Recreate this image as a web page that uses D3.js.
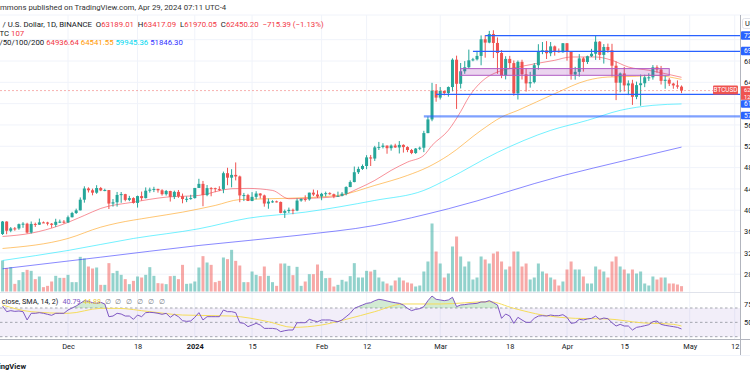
<!DOCTYPE html>
<html><head><meta charset="utf-8">
<script src="https://cdn.jsdelivr.net/npm/d3@7/dist/d3.min.js"></script>
<style>
html,body{margin:0;padding:0;background:#fff;}
svg{display:block;font-family:Roboto,"Noto Sans",sans-serif;}
text{white-space:pre;}
</style></head>
<body><svg id="chart" width="750" height="375"></svg>
<script>
// ---------------- DATA ----------------
const firstDay = "2023-11-15";
const lastDay = "2024-04-29";
const opens = [35537,37880,36154,36596,36585,37386,37476,35813,37432,37289,37720,37700,37480,37254,37831,37858,37712,38688,39476,39978,
41980,44080,43746,43293,44170,43713,43789,41253,41492,42869,43022,41941,42278,41374,42657,42275,43668,43861,43997,43740,
43016,43613,42520,43442,42627,42100,42142,42284,44180,44946,42846,44151,44146,43968,43930,46951,46110,46633,46340,42782,
42847,41732,42511,43137,42776,41262,41618,41665,41545,39507,39846,40077,39934,41817,42120,42035,43300,42946,42582,43082,
43200,43011,42582,42708,43098,44349,45288,47132,47751,48300,49917,49699,51795,51880,52125,51642,52137,51779,52260,51850,
51300,50730,51571,51728,54476,57037,62432,61130,62387,61987,63113,68245,63724,66074,66823,68124,68313,68955,72078,71452,
73072,71388,69499,65300,68393,67609,61937,67840,65501,63796,64037,67211,69880,69988,69456,70745,69892,69645,71333,69702,
65463,65964,68488,67820,68896,69360,71620,69146,70631,70006,67116,63924,65662,63419,63793,61277,63470,63818,64940,64941,
66819,66408,64277,64481,63755,63419,63189.01];
const highs = [37980,37930,36845,36850,37500,37760,37650,37890,37680,38430,37890,37830,37600,38400,38250,38150,38999,39700,40300,42400,
44490,44300,44050,44700,44370,44040,43790,42100,43430,43420,43080,42700,42430,42750,43500,44280,44240,44400,44040,43940,
43800,43650,43680,43800,43130,42600,42900,44180,45900,45500,44730,44340,44230,44500,47250,47970,47700,48970,46500,43250,
43080,43400,43570,43200,42930,42200,41870,41800,41650,40130,40500,40300,42200,42200,42800,43300,43880,43740,43270,43490,
43380,43120,43490,43400,44490,45600,48200,48170,48590,50330,50370,52080,52820,52570,52170,52350,52480,52980,52370,52000,
51500,51680,51950,54900,57580,63900,63680,63114,62430,63230,68500,69000,67630,67980,70136,68590,69900,72800,72850,73650,
73777,72420,70044,68900,68956,68100,68100,68240,66650,65970,67620,71150,71560,71730,71560,70900,70350,71370,71370,69708,
66900,69290,68725,69000,70280,72715,71750,71170,71260,71227,67932,65840,66868,64365,64471,64125,65450,65419,65700,67232,
67199,67075,65275,64800,63923,64361,63417.09];
const lows = [35360,35500,35875,36160,36330,36700,35630,35630,36870,37250,37600,37150,36700,36880,37600,37500,37615,38650,39300,39960,
41420,43330,42800,43080,43580,43570,40230,40680,40680,41400,41670,41700,41250,40500,41800,42210,43300,43400,43300,42750,
42750,41630,42100,42320,41300,41520,41970,42180,44180,40750,42630,42620,43400,43600,43200,44700,44300,45600,41500,41720,
41720,41700,42050,42200,40670,40280,41400,41450,39430,38555,39480,39250,39820,41600,41620,41800,42680,42300,41880,42570,
42900,42260,42550,42600,42800,44330,45240,46800,47560,47700,48300,49250,51300,51600,50600,51180,51700,50650,50820,50900,
50520,50570,51280,50900,54450,56700,60360,60780,61550,61310,62300,59005,62850,65600,66600,67950,68100,67200,68620,71330,
68550,65600,64780,64550,66600,61500,60775,64530,62260,63000,63790,66385,69280,68380,68900,69000,69560,69560,68060,64500,
64500,65060,66011,67440,68750,68210,68200,67518,69560,65086,60660,62134,62274,61600,59768,60833,59600,63090,64254,64500,
65806,63590,62800,63300,62793,62793,61970.05];
const closes = [37880,36154,36596,36585,37386,37476,35813,37432,37289,37720,37700,37480,37254,37831,37858,37712,38688,39476,39978,41980,
44080,43746,43293,44170,43713,43789,41253,41492,42869,43022,41941,42278,41374,42657,42275,43668,43861,43997,43740,43016,
43613,42520,43442,42627,42100,42142,42284,44180,44946,42846,44151,44146,43968,43930,46951,46110,46633,46340,42782,42847,
41732,42511,43137,42776,41262,41618,41665,41545,39507,39846,40077,39934,41817,42120,42035,43300,42946,42582,43082,43200,
43011,42582,42708,43098,44349,45288,47132,47751,48300,49917,49699,51795,51880,52125,51642,52137,51779,52260,51850,51300,
50730,51571,51728,54476,57037,62432,61130,62387,61987,63113,68245,63724,66074,66823,68124,68313,68955,72078,71452,73072,
71388,69499,65300,68393,67609,61937,67840,65501,63796,64037,67211,69880,69988,69456,70745,69892,69645,71333,69702,65463,
65964,68488,67820,68896,69360,71620,69146,70631,70006,67116,63924,65662,63419,63793,61277,63470,63818,64940,64941,66819,
66408,64277,64481,63755,63419,63189.01,62450.20];
const volumes = [620,467,487,153,227,387,433,413,247,300,87,113,200,313,273,273,333,187,187,693,
660,500,460,480,133,133,567,367,413,333,247,147,213,300,280,333,487,313,167,160,
147,307,313,247,533,153,160,200,480,707,580,533,187,213,680,647,833,613,520,187,
187,400,333,307,500,313,187,113,560,560,513,327,493,113,200,347,347,540,413,267,
273,100,133,233,200,307,567,280,280,413,400,433,280,200,160,120,220,280,220,180,
160,100,120,400,600,1360,800,560,280,360,900,1100,700,500,600,240,280,700,640,560,
760,800,600,440,500,800,800,500,560,240,280,560,400,360,280,240,120,200,440,600,
440,440,300,160,160,500,440,400,280,600,700,500,440,360,440,360,400,160,120,300,
240,280,280,160,160,140,107];
const rsiValues = [72.8,64.9,66.3,65.3,65.8,64.9,53.3,62.6,62.6,63.5,62.6,61.2,59.8,62.6,62.6,62.6,67.2,70,72.8,76.5,
80.2,79.3,77.4,76.5,77.9,75.6,57.9,58.8,62.6,61.6,58.8,58.8,54.2,60.2,57.9,63.5,64,63.5,62.6,61.2,
62.6,57,61.2,57.9,52.3,51.4,51.9,57,63.5,53.3,57.9,57.9,57.9,57.9,67.2,64.9,64.9,63.5,49.5,48.6,
44,46.3,48.6,46.3,41.6,41.6,41.6,40.7,37,38.4,39.3,39.3,49.5,49.5,49.5,54.2,52.3,50.9,53.3,53.3,
53.3,51.9,50.9,53.3,57.9,62.6,69.5,71.9,74.2,76.5,77.4,80.2,82.1,81.2,79.8,78.4,77.4,76.5,74.2,69.5,
66.3,68.1,69.1,71.9,80.2,86.7,82.1,81.2,80.2,81.2,84.9,71.9,74.2,74.7,75.6,76,76.5,78.4,78.4,80.2,
77.4,74.2,55.6,61.6,58.8,48.6,57,53.3,50,50,55.6,58.8,59.3,58.8,60.2,59.3,59.3,60.7,57,48.6,
49.5,54.2,53.3,54.7,55.6,58.8,54.2,56,55.1,49.5,44.9,47.2,44.9,44.9,39.3,43,44,45.3,46.7,50.9,
51.9,47.2,45.8,44.9,44,43,40.79];
const rsiSma = [["2023-11-15",74.2],["2023-11-22",64.9],["2023-12-01",62.6],["2023-12-09",69.5],["2023-12-13",69.5],["2023-12-21",64.9],["2023-12-29",60.2],["2024-01-10",58.8],["2024-01-19",50.9],["2024-01-25",43],["2024-02-01",46.3],["2024-02-07",54.2],["2024-02-14",64.9],["2024-02-21",75.6],["2024-03-01",75.6],["2024-03-13",78.8],["2024-03-19",69.5],["2024-03-26",60.2],["2024-04-03",55.6],["2024-04-11",54.7],["2024-04-19",49.5],["2024-04-27",47.2],["2024-04-29",44.88]];
const ma20 = [["2023-11-15",35080],["2023-11-22",35700],["2023-11-29",37146],["2023-12-05",39023],["2023-12-09",40338],["2023-12-17",41521],["2023-12-25",42460],["2024-01-02",42779],["2024-01-10",44038],["2024-01-14",44094],["2024-01-20",43718],["2024-01-24",42160],["2024-01-28",42216],["2024-02-05",42592],["2024-02-10",44094],["2024-02-14",45596],["2024-02-18",47474],["2024-02-22",49033],["2024-02-26",50291],["2024-02-28",52169],["2024-03-03",55000],["2024-03-06",58500],["2024-03-08",61239],["2024-03-12",64695],["2024-03-15",65934],["2024-03-20",66873],["2024-03-29",68131],["2024-04-02",68751],["2024-04-08",68751],["2024-04-12",68131],["2024-04-16",66873],["2024-04-21",66254],["2024-04-25",65634],["2024-04-29",64936.64]];
const ma50 = [["2023-11-15",32826],["2023-12-01",34704],["2023-12-09",36826],["2023-12-13",37577],["2023-12-21",38648],["2023-12-29",39643],["2024-01-06",40901],["2024-01-12",42000],["2024-01-24",42250],["2024-02-05",42779],["2024-02-14",44657],["2024-02-22",46535],["2024-02-27",48094],["2024-03-03",50291],["2024-03-11",54986],["2024-03-16",57484],["2024-03-20",58742],["2024-03-29",61878],["2024-04-06",64376],["2024-04-11",64995],["2024-04-18",65127],["2024-04-22",65315],["2024-04-29",64541.55]];
const ma100 = [["2023-11-15",30573],["2023-12-01",32451],["2023-12-17",34704],["2024-01-02",36525],["2024-01-14",38500],["2024-01-28",39643],["2024-02-14",41840],["2024-02-26",43718],["2024-03-03",45915],["2024-03-15",50855],["2024-03-28",54986],["2024-04-06",56864],["2024-04-14",58742],["2024-04-22",59681],["2024-04-29",59945.36]];
const ma200 = [["2023-11-15",29014],["2023-12-09",31192],["2024-01-02",33390],["2024-01-26",35268],["2024-02-14",37146],["2024-03-03",40282],["2024-03-31",46500],["2024-04-15",49300],["2024-04-29",51846.30]];
const levelLines = [["2024-03-12",72770],["2024-03-09",69822],["2024-02-29",61747],["2024-02-26",57615]];
const zoneBox = ["2024-03-06","2024-04-26",66573,65315];
const priceGridTicks = [28000,32000,36000,40000,44000,48000,52000,56000,60000,64000,68000,72000];
const priceLabelTicks = [28000,32000,36000,40000,44000,48000,52000,56000,64000,68000];
const timeTickDates = ["2023-12-01","2023-12-18","2024-01-01","2024-01-15","2024-02-01","2024-02-12","2024-03-01","2024-03-18","2024-04-01","2024-04-15","2024-05-01","2024-05-12"];
const timeTickLabels = ["Dec","18","2024","15","Feb","12","Mar","18","Apr","15","May","12"];
const rsiLevels = [70,50,30];
const rsiLabelTicks = [75,50];
const lastCloseText = "62450.20";
const countdownText = "12:48:17";

// ---------------- DRAW ----------------
const parse = d3.utcParse("%Y-%m-%d");
const dates = d3.utcDay.range(parse(firstDay), d3.utcDay.offset(parse(lastDay), 1));
const svg = d3.select("#chart");
const AX = 740; // price axis x
const PANE_TOP = 15, PANE_BOT = 292.5, RSI_BOT = 339.5;

const x = d3.scaleUtc().domain([parse("2023-12-01"), parse("2024-04-01")]).range([68, 567]);
const y = d3.scaleLinear().domain([28000, 68000]).range([274.2, 61]);
const yv = d3.scaleLinear().domain([0, 1400]).range([291.5, 221.5]);
const yr = d3.scaleLinear().domain([30, 70]).range([336.7, 308]);

const defs = svg.append("defs");
defs.append("clipPath").attr("id","mainClip").append("rect").attr("x",0).attr("y",PANE_TOP).attr("width",AX).attr("height",PANE_BOT-PANE_TOP);
defs.append("clipPath").attr("id","rsiClip").append("rect").attr("x",0).attr("y",PANE_BOT).attr("width",AX).attr("height",RSI_BOT-PANE_BOT);
defs.append("clipPath").attr("id","obClip").append("rect").attr("x",0).attr("y",PANE_BOT).attr("width",AX).attr("height",yr(70)-PANE_BOT);

// grid
const grid = svg.append("g");
grid.selectAll(".hg").data(priceGridTicks).join("line")
  .attr("x1",0).attr("x2",AX).attr("y1",d=>y(d)).attr("y2",d=>y(d))
  .attr("stroke","#F0F3FA").attr("stroke-width",1);
grid.selectAll(".vg").data(timeTickDates).join("line")
  .attr("x1",d=>x(parse(d))).attr("x2",d=>x(parse(d))).attr("y1",PANE_TOP).attr("y2",RSI_BOT)
  .attr("stroke","#F0F3FA").attr("stroke-width",1);

// borders
svg.append("line").attr("x1",0).attr("x2",750).attr("y1",PANE_TOP).attr("y2",PANE_TOP).attr("stroke","#F0F3FA");
svg.append("line").attr("x1",0).attr("x2",AX).attr("y1",PANE_BOT).attr("y2",PANE_BOT).attr("stroke","#E0E3EB");
svg.append("line").attr("x1",0).attr("x2",750).attr("y1",RSI_BOT).attr("y2",RSI_BOT).attr("stroke","#B2B5BE");
svg.append("line").attr("x1",AX+0.5).attr("x2",AX+0.5).attr("y1",PANE_TOP).attr("y2",355).attr("stroke","#B2B5BE");
svg.append("line").attr("x1",0).attr("x2",750).attr("y1",355.5).attr("y2",355.5).attr("stroke","#F0F3FA");

// main pane
const main = svg.append("g").attr("clip-path","url(#mainClip)");
const upC = "#26A69A", dnC = "#EF5350";
const bw = 3;
main.append("g").selectAll("rect").data(dates).join("rect")
  .attr("x",d=>x(d)-bw/2).attr("width",bw)
  .attr("y",(d,i)=>yv(volumes[i])).attr("height",(d,i)=>yv(0)-yv(volumes[i]))
  .attr("fill",(d,i)=>closes[i]>=opens[i]?"rgba(38,166,154,0.5)":"rgba(239,83,80,0.5)");

// moving averages
const maLine = d3.line().x(d=>x(parse(d[0]))).y(d=>y(d[1])).curve(d3.curveMonotoneX);
[[ma200,"rgba(40,40,255,0.55)"],[ma100,"rgba(0,229,255,0.55)"],[ma50,"rgba(255,152,0,0.55)"],[ma20,"rgba(242,54,69,0.55)"]].forEach(([arr,c])=>{
  main.append("path").attr("d",maLine(arr)).attr("fill","none").attr("stroke",c).attr("stroke-width",1);
});

// candles
const cg = main.append("g");
cg.selectAll("line").data(dates).join("line")
  .attr("x1",d=>x(d)).attr("x2",d=>x(d))
  .attr("y1",(d,i)=>y(highs[i])).attr("y2",(d,i)=>y(lows[i]))
  .attr("stroke",(d,i)=>closes[i]>=opens[i]?upC:dnC).attr("stroke-width",1);
cg.selectAll("rect").data(dates).join("rect")
  .attr("x",d=>x(d)-bw/2).attr("width",bw)
  .attr("y",(d,i)=>y(Math.max(opens[i],closes[i])))
  .attr("height",(d,i)=>Math.max(1,Math.abs(y(opens[i])-y(closes[i]))))
  .attr("fill",(d,i)=>closes[i]>=opens[i]?upC:dnC);

// drawings
main.append("rect")
  .attr("x",x(parse(zoneBox[0]))).attr("width",x(parse(zoneBox[1]))-x(parse(zoneBox[0])))
  .attr("y",y(zoneBox[2])).attr("height",y(zoneBox[3])-y(zoneBox[2]))
  .attr("fill","rgba(156,39,176,0.2)").attr("stroke","#B05CC4").attr("stroke-width",1);
levelLines.forEach((l,k)=>{
  main.append("line").attr("x1",x(parse(l[0]))).attr("x2",AX).attr("y1",y(l[1])).attr("y2",y(l[1]))
    .attr("stroke",k===3?"rgba(41,98,255,0.6)":"#2962FF").attr("stroke-width",k===3?2.2:1.2);
});
// last price line
main.append("line").attr("x1",0).attr("x2",AX).attr("y1",y(closes[closes.length-1])).attr("y2",y(closes[closes.length-1]))
  .attr("stroke","rgba(239,83,80,0.45)").attr("stroke-width",1).attr("stroke-dasharray","2,2");

// RSI pane
const rsiG = svg.append("g").attr("clip-path","url(#rsiClip)");
rsiG.append("rect").attr("x",0).attr("width",AX).attr("y",yr(70)).attr("height",yr(30)-yr(70)).attr("fill","rgba(126,87,194,0.1)");
rsiLevels.forEach(v=>{
  rsiG.append("line").attr("x1",0).attr("x2",AX).attr("y1",yr(v)).attr("y2",yr(v))
    .attr("stroke","#A3A6AF").attr("stroke-width",1).attr("stroke-dasharray","2.5,2.5");
});
const obArea = d3.area().x(d=>x(d)).y0(yr(70)).y1((d,i)=>yr(rsiValues[i]));
rsiG.append("path").attr("clip-path","url(#obClip)").attr("d",obArea(dates)).attr("fill","rgba(76,175,80,0.25)");
rsiG.append("path").attr("d",d3.line().x(d=>x(parse(d[0]))).y(d=>yr(d[1])).curve(d3.curveMonotoneX)(rsiSma))
  .attr("fill","none").attr("stroke","#F5DC5A").attr("stroke-width",1);
rsiG.append("path").attr("d",d3.line().x(d=>x(d)).y((d,i)=>yr(rsiValues[i]))(dates))
  .attr("fill","none").attr("stroke","#7E57C2").attr("stroke-width",1);

// price axis
const fs = 7.4;
const pAxis = svg.append("g").attr("transform",`translate(${AX},0)`)
  .call(d3.axisRight(y).tickValues(priceLabelTicks).tickFormat(d3.format(".2f")).tickSize(0).tickPadding(4));
pAxis.select(".domain").remove();
pAxis.selectAll("text").attr("font-size",fs).attr("fill","#131722").attr("font-family","Roboto");
const rAxis = svg.append("g").attr("transform",`translate(${AX},0)`)
  .call(d3.axisRight(yr).tickValues(rsiLabelTicks).tickFormat(d3.format("d")).tickSize(0).tickPadding(4));
rAxis.select(".domain").remove();
rAxis.selectAll("text").attr("font-size",fs).attr("fill","#131722").attr("font-family","Roboto");

// time axis
const tAxis = svg.append("g").attr("transform",`translate(0,${RSI_BOT+3})`)
  .call(d3.axisBottom(x).tickValues(timeTickDates.map(parse)).tickFormat((d,i)=>timeTickLabels[i]).tickSize(0).tickPadding(1));
tAxis.select(".domain").remove();
tAxis.selectAll("text").attr("font-size",fs).attr("fill","#131722").attr("font-family","Roboto")
  .attr("font-weight",(d,i)=>timeTickLabels[i]==="2024"?"bold":"normal");

// axis colored labels
function axisTag(yc, h, fill, txt){
  svg.append("rect").attr("x",AX+1).attr("y",yc-h/2).attr("width",20).attr("height",h).attr("rx",1).attr("fill",fill);
  svg.append("text").attr("x",AX+4).attr("y",yc).attr("dy","0.35em").attr("font-size",6.6).attr("fill","#fff").text(txt);
}
axisTag(35.5, 8.5, "#2962FF", d3.format(".2f")(levelLines[0][1]));
axisTag(51, 8.5, "#2962FF", d3.format(".2f")(levelLines[1][1]));
axisTag(104, 7.5, "#2962FF", d3.format(".2f")(levelLines[2][1]));
axisTag(115.5, 7.5, "#2962FF", d3.format(".2f")(levelLines[3][1]));
// last price tag with countdown
svg.append("rect").attr("x",AX+1).attr("y",86.2).attr("width",20).attr("height",13.6).attr("fill","#EF5350");
svg.append("text").attr("x",AX+4).attr("y",89.5).attr("dy","0.35em").attr("font-size",5.8).attr("fill","#fff").text(lastCloseText);
svg.append("text").attr("x",AX+4).attr("y",96.6).attr("dy","0.35em").attr("font-size",5.8).attr("fill","#fff").text(countdownText);
svg.append("rect").attr("x",713).attr("y",85.6).attr("width",25).attr("height",9).attr("rx",1).attr("fill","#EF5350");
svg.append("text").attr("x",725.5).attr("y",90.1).attr("dy","0.35em").attr("text-anchor","middle").attr("font-size",6.4).attr("fill","#fff").text("BTCUSD");
// currency button
svg.append("rect").attr("x",742.5).attr("y",18.5).attr("width",14).attr("height",10).attr("rx",2).attr("fill","#fff").attr("stroke","#E0E3EB");
svg.append("text").attr("x",745).attr("y",23.5).attr("dy","0.35em").attr("font-size",fs).attr("fill","#131722").text("USD");

// header & legends
const lfs = 7.8;
svg.append("text").attr("x",0).attr("y",10).attr("font-size",lfs).attr("fill","#333").text("mmons published on TradingView.com, Apr 29, 2024 07:11 UTC-4");
const red = "#F23645";
function legend(yb, parts, x0){
  const t = svg.append("text").attr("x",x0).attr("y",yb).attr("font-size",lfs);
  parts.forEach(([s,c])=>t.append("tspan").attr("fill",c).text(s));
}
legend(26.8, [["/ U.S. Dollar, 1D, BINANCE  ","#131722"],["O","#131722"],["63189.01",red],["  H","#131722"],["63417.09",red],["  L","#131722"],["61970.05",red],["  C","#131722"],["62450.20",red],["  \u2212715.39 (\u22121.13%)",red]], 2.5);
legend(35.5, [["TC ","#131722"],["107",red]], -0.5);
legend(45.3, [["/50/100/200 ","#131722"],["64936.64",red],[" ","#131722"],["64541.55","#FF9800"],[" ","#131722"],["59945.36","#00D8F0"],[" ","#131722"],["51846.30","#3030FF"]], -0.5);
// RSI legend
const rsiLegend = [[", close, SMA, 14, 2)",-1.5,"#131722"],["40.79",62.5,"#7E57C2"],["44.88",83,"#E8C93A"]];
rsiLegend.forEach(([s,px,c])=>{
  svg.append("text").attr("x",px).attr("y",303.8).attr("font-size",7.2).attr("fill",c).text(s);
});
[104.5,115.3,126.1,136.9,147.7,158.5].forEach(px=>{
  svg.append("text").attr("x",px).attr("y",303.8).attr("font-size",7.2).attr("fill","#787B86").text("\u2205");
});
// footer
svg.append("text").attr("x",26).attr("y",368.5).attr("text-anchor","end").attr("font-size",7.6).attr("font-weight","bold").attr("fill","#131722").text("TradingView");
</script>
</body></html>
